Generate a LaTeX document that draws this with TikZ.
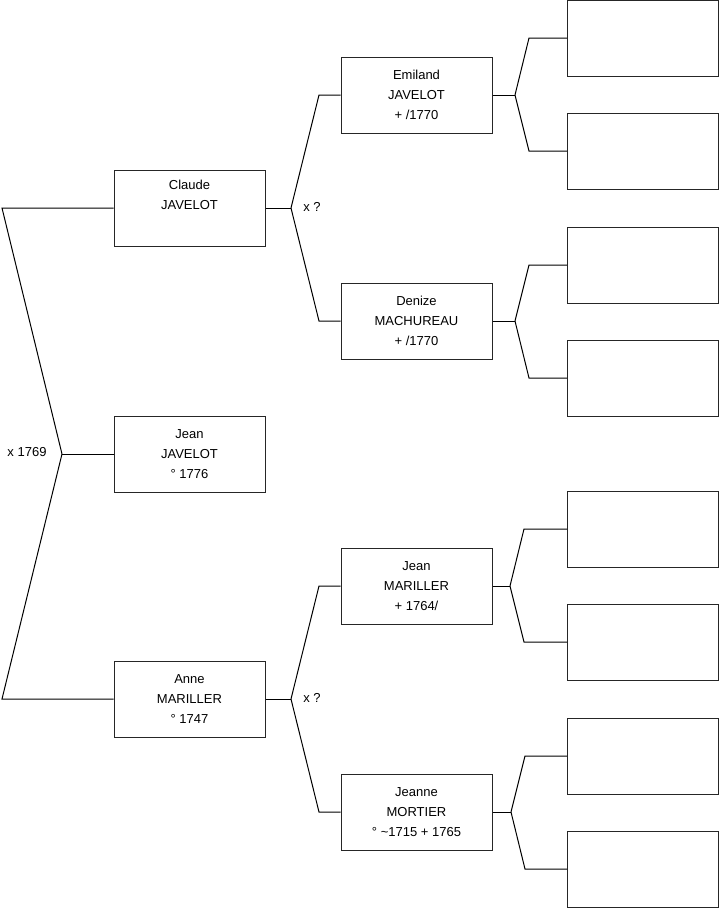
\documentclass[tikz,border=0pt]{standalone}
\usepackage{fontspec}
\setmainfont{Liberation Sans}
\begin{document}
\begin{tikzpicture}[x=0.75pt,y=-0.75pt,
  person/.style={draw=black!85, line width=0.75pt, minimum width=113.25pt, minimum height=57pt, inner sep=0pt, align=center, font=\fontsize{9.75}{15}\selectfont},
  link/.style={draw=black, line width=0.75pt},
  lbl/.style={font=\fontsize{9.75}{11}\selectfont, inner sep=0pt}]
\useasboundingbox (0,0) rectangle (719,908);
% generation 1
\node[person] (claude) at (189.5,208) {Claude\\JAVELOT\\\strut};
\node[person] (jean) at (189.5,454) {Jean\\JAVELOT\\° 1776};
\node[person] (anne) at (189.5,699) {Anne\\MARILLER\\° 1747};
% generation 2
\node[person] (emiland) at (416.5,95) {Emiland\\JAVELOT\\+ /1770};
\node[person] (denize) at (416.5,321) {Denize\\MACHUREAU\\+ /1770};
\node[person] (jeanm) at (416.5,586) {Jean\\MARILLER\\+ 1764/};
\node[person] (jeanne) at (416.5,812) {Jeanne\\MORTIER\\° \textasciitilde1715 + 1765};
% generation 3
\node[person] (g1) at (643,38) {};
\node[person] (g2) at (643,151) {};
\node[person] (g3) at (643,265) {};
\node[person] (g4) at (643,378) {};
\node[person] (g5) at (643,529) {};
\node[person] (g6) at (643,642) {};
\node[person] (g7) at (643,756) {};
\node[person] (g8) at (643,869) {};
% coordinates
\coordinate (r) at (62,454);
\coordinate (rt) at (2,208);
\coordinate (rb) at (2,699);
\coordinate (fa) at (291,208);
\coordinate (fat) at (319,95);
\coordinate (fab) at (319,321);
\coordinate (fb) at (291,699);
\coordinate (fbt) at (319,586);
\coordinate (fbb) at (319,812);
\coordinate (f1) at (515,95);
\coordinate (f1t) at (529,38);
\coordinate (f1b) at (529,151);
\coordinate (f2) at (515,321);
\coordinate (f2t) at (529,265);
\coordinate (f2b) at (529,378);
\coordinate (f3) at (510,586);
\coordinate (f3t) at (524,529);
\coordinate (f3b) at (524,642);
\coordinate (f4) at (511,812);
\coordinate (f4t) at (525,756);
\coordinate (f4b) at (525,869);
% connectors
\draw[link] (jean.west) -- (r);
\draw[link] (r) -- (rt) -- (claude.west);
\draw[link] (r) -- (rb) -- (anne.west);
\draw[link] (claude.east) -- (fa);
\draw[link] (fa) -- (fat) -- (emiland.west);
\draw[link] (fa) -- (fab) -- (denize.west);
\draw[link] (anne.east) -- (fb);
\draw[link] (fb) -- (fbt) -- (jeanm.west);
\draw[link] (fb) -- (fbb) -- (jeanne.west);
\draw[link] (emiland.east) -- (f1);
\draw[link] (f1) -- (f1t) -- (g1.west);
\draw[link] (f1) -- (f1b) -- (g2.west);
\draw[link] (denize.east) -- (f2);
\draw[link] (f2) -- (f2t) -- (g3.west);
\draw[link] (f2) -- (f2b) -- (g4.west);
\draw[link] (jeanm.east) -- (f3);
\draw[link] (f3) -- (f3t) -- (g5.west);
\draw[link] (f3) -- (f3b) -- (g6.west);
\draw[link] (jeanne.east) -- (f4);
\draw[link] (f4) -- (f4t) -- (g7.west);
\draw[link] (f4) -- (f4b) -- (g8.west);
% labels
\node[lbl] (m0) at (27,452) {x 1769};
\node[lbl] (m1) at (312,207) {x ?};
\node[lbl] (m2) at (312,698) {x ?};
\end{tikzpicture}
\end{document}
